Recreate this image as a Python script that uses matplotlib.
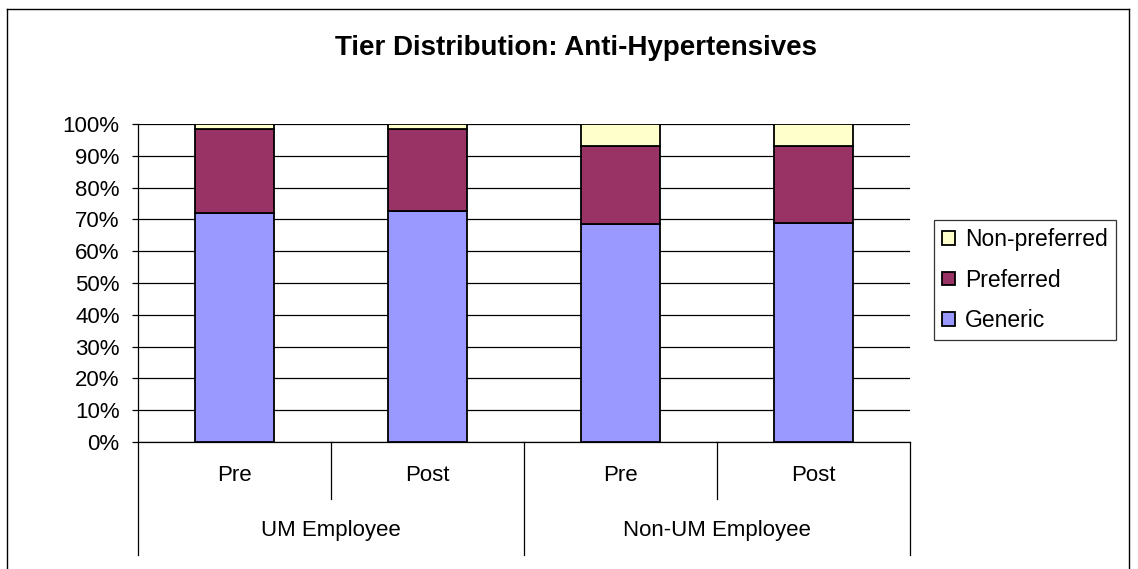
import matplotlib
matplotlib.use("Agg")
import matplotlib.pyplot as plt
from matplotlib.lines import Line2D
from matplotlib.patches import Patch
import matplotlib.transforms as mtransforms
import numpy as np

plt.rcParams['font.family'] = ['Liberation Sans', 'DejaVu Sans']

# Data
groups = ["UM Employee", "Non-UM Employee"]
periods = ["Pre", "Post", "Pre", "Post"]
generic = [72.0, 72.5, 68.5, 69.0]
preferred = [26.5, 26.0, 24.5, 24.0]
non_preferred = [1.5, 1.5, 7.0, 7.0]

c_generic = "#9999FF"
c_preferred = "#993366"
c_nonpref = "#FFFFCC"

W, H = 1138, 569
fig = plt.figure(figsize=(W / 100, H / 100), dpi=100)

# Chart frame (left, top and right edges)
frame_kw = dict(color="black", lw=1.0, transform=fig.transFigure)
fig.add_artist(Line2D([7 / W, 7 / W], [0, 1 - 9 / H], **frame_kw))
fig.add_artist(Line2D([7 / W, 1129 / W], [1 - 9 / H, 1 - 9 / H], **frame_kw))
fig.add_artist(Line2D([1129 / W, 1129 / W], [0, 1 - 9 / H], **frame_kw))

ax = fig.add_axes([138 / W, 1 - 442 / H, (910 - 138) / W, (442 - 124) / H])

x = np.arange(len(periods))
bw = 0.41
bot2 = np.array(generic) + np.array(preferred)
ax.bar(x, generic, bw, color=c_generic, edgecolor="black", lw=1.3, zorder=3)
ax.bar(x, preferred, bw, bottom=generic, color=c_preferred, edgecolor="black", lw=1.3, zorder=3)
ax.bar(x, non_preferred, bw, bottom=bot2, color=c_nonpref, edgecolor="black", lw=1.3, zorder=3)

ax.set_xlim(-0.5, len(periods) - 0.5)
ax.set_ylim(0, 100)
ax.set_yticks(np.arange(0, 101, 10))
ax.set_yticklabels([f"{v}%" for v in range(0, 101, 10)], fontsize=16)
ax.yaxis.grid(True, color="black", lw=0.9)
ax.set_axisbelow(True)
ax.tick_params(axis="y", length=4.3, width=0.9, pad=9)
ax.set_xticks([])
for s in ["top", "right"]:
    ax.spines[s].set_visible(False)
ax.spines["left"].set_linewidth(0.9)
ax.spines["bottom"].set_linewidth(0.9)

# Two-level category axis
trans = mtransforms.blended_transform_factory(ax.transData, ax.transAxes)
for b in range(len(periods) + 1):
    low = -0.355 if b % 2 == 0 else -0.179
    ax.add_line(Line2D([b - 0.5, b - 0.5], [0, low], color="black", lw=0.9,
                       transform=trans, clip_on=False))
for i, p in enumerate(periods):
    ax.text(i, -0.104, p, transform=trans, ha="center", va="center", fontsize=16)
for g, name in enumerate(groups):
    ax.text(2 * g + 0.5, -0.277, name, transform=trans, ha="center", va="center", fontsize=16)

fig.text(576 / W, 1 - 48 / H, "Tier Distribution: Anti-Hypertensives",
         ha="center", va="center", fontsize=20, fontweight="bold")

handles = [Patch(facecolor=c_nonpref, edgecolor="black", lw=1.3, label="Non-preferred"),
           Patch(facecolor=c_preferred, edgecolor="black", lw=1.3, label="Preferred"),
           Patch(facecolor=c_generic, edgecolor="black", lw=1.3, label="Generic")]
leg = fig.legend(handles=handles, loc="upper left", bbox_to_anchor=(934 / W, 1 - 220 / H),
                 fontsize=16.5, frameon=True, fancybox=False, edgecolor="black",
                 handlelength=0.55, handleheight=0.55, handletextpad=0.45,
                 labelspacing=0.77, borderpad=0.35, borderaxespad=0)
leg.get_frame().set_linewidth(0.9)

fig.savefig("out.png", dpi=100, facecolor="white")
